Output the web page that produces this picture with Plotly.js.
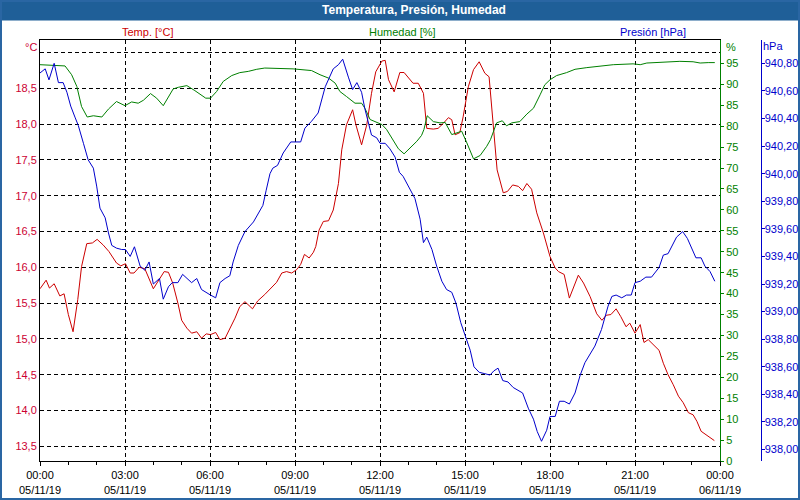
<!DOCTYPE html>
<html>
<head>
<meta charset="utf-8">
<script src="https://cdn.plot.ly/plotly-3.0.1.min.js"></script>
<style>
  html, body { margin: 0; padding: 0; background: #ffffff; }
  #chart { width: 800px; height: 500px; }
</style>
</head>
<body>
<div id="chart"></div>
<script>
// temperatura [°C]
var tempTimes = ['00:00','00:13','00:20','00:30','00:42','00:51','01:00','01:10','01:20','01:28','01:39','01:51',
  '02:01','02:14','02:26','02:42','02:51','03:01','03:11','03:19','03:30','03:42','04:00','04:12','04:23','04:32',
  '04:41','04:52','05:00','05:11','05:21','05:32','05:42','05:52','06:01','06:12','06:21','06:32','06:42','06:53',
  '07:03','07:14','07:30','07:41','07:56','08:07','08:21','08:32','08:42','08:53','09:04','09:12','09:20','09:30',
  '09:39','09:44','09:51','10:00','10:11','10:21','10:32','10:39','10:49','11:02','11:09','11:21','11:32','11:42',
  '11:51','12:04','12:11','12:18','12:30','12:42','12:51','13:10','13:21','13:32','13:39','13:53','14:03','14:14',
  '14:25','14:32','14:39','14:49','14:56','15:07','15:18','15:30','15:42','15:51','15:57','16:08','16:21','16:30',
  '16:41','16:53','17:02','17:11','17:21','17:32','17:46','18:00','18:11','18:18','18:30','18:41','19:00','19:11',
  '19:25','19:39','19:50','19:59','20:09','20:20','20:30','20:41','20:49','21:00','21:11','21:19','21:28','21:39',
  '21:51','22:00','22:10','22:21','22:32','22:42','22:53','23:03','23:11','23:20','23:30','23:39','23:48'];
var tempValues = [15.70,15.82,15.71,15.77,15.60,15.63,15.34,15.10,15.55,16.01,16.33,16.34,
  16.39,16.31,16.22,16.06,16.02,16.05,15.92,15.92,16.00,15.98,15.70,15.83,15.94,15.93,
  15.78,15.50,15.26,15.15,15.08,15.10,15.01,15.07,15.06,15.09,14.99,15.01,15.14,15.29,
  15.45,15.52,15.42,15.53,15.62,15.69,15.79,15.92,15.94,15.92,15.97,16.04,16.18,16.13,
  16.21,16.29,16.52,16.64,16.65,16.80,17.17,17.64,17.99,18.20,17.99,17.71,17.99,18.43,
  18.73,18.88,18.89,18.62,18.45,18.72,18.72,18.57,18.57,18.43,17.94,17.93,17.94,18.01,
  18.09,18.06,17.85,17.88,18.10,18.52,18.76,18.87,18.71,18.66,18.20,17.36,17.04,17.06,
  17.15,17.13,17.07,17.17,17.09,16.76,16.48,16.15,15.99,15.94,15.90,15.57,15.89,15.78,
  15.59,15.35,15.26,15.33,15.34,15.42,15.31,15.17,15.22,15.08,15.20,14.95,14.99,14.92,
  14.84,14.66,14.50,14.36,14.20,14.11,13.97,13.94,13.85,13.71,13.66,13.62,13.58];

// humedad [%]
var humTimes = ['00:00','00:53','01:07','01:18','01:28','01:40','01:53','02:11','02:25','02:42','03:00','03:14',
  '03:28','03:39','03:54','04:07','04:21','04:30','04:42','04:53','05:11','05:28','05:51','06:01','06:14','06:28',
  '06:46','07:03','07:21','07:39','07:56','08:56','09:35','09:53','10:11','10:25','10:35','10:49','11:07','11:21',
  '11:28','11:39','12:04','12:14','12:25','12:39','12:51','13:04','13:18','13:28','13:33','13:40','13:53','14:07',
  '14:18','14:32','14:46','14:53','15:04','15:18','15:32','15:46','15:54','16:07','16:19','16:28','16:39','16:56',
  '17:11','17:25','17:39','17:49','18:00','18:14','18:35','18:53','19:18','19:46','20:14','20:56','21:11','21:25',
  '21:53','22:35','23:03','23:18','23:35','23:49'];
var humValues = [94.7,94.4,92.3,89.5,84.7,82.2,82.5,82.2,84.1,85.9,84.9,85.8,
  85.5,86.2,87.8,86.7,84.9,86.5,88.9,89.3,89.7,88.5,86.7,86.7,88.3,90.7,
  92.1,92.8,93.1,93.6,93.9,93.7,93.3,92.3,91.5,90.3,88.3,87.1,85.5,85.5,
  84.3,81.6,80.4,79.2,77.2,74.6,73.4,74.8,76.4,77.8,79.2,82.5,81.1,80.8,
  80.9,78.0,78.5,78.8,76.0,72.2,73.0,75.2,76.8,80.8,81.3,80.1,80.8,81.1,
  82.9,84.3,87.5,89.9,91.1,92.1,92.8,93.6,94.0,94.4,94.7,94.9,94.7,95.1,
  95.2,95.5,95.4,95.1,95.2,95.2];

// presión [hPa]
var presTimes = ['00:00','00:11','00:19','00:30','00:39','00:49','00:57','01:05','01:14','01:21','01:32','01:42',
  '01:53','02:00','02:07','02:18','02:25','02:32','02:42','02:53','03:01','03:11','03:20','03:32','03:42','03:51',
  '04:00','04:13','04:21','04:32','04:40','04:52','05:02','05:21','05:32','05:42','06:01','06:12','06:21','06:32',
  '06:42','06:49','07:00','07:14','07:32','07:52','07:59','08:07','08:13','08:23','08:35','08:51','09:12','09:21',
  '09:35','09:49','10:04','10:21','10:32','10:41','10:53','11:02','11:11','11:21','11:28','11:42','11:53','12:00',
  '12:11','12:21','12:32','12:41','12:49','13:00','13:07','13:14','13:25','13:32','13:39','13:50','14:00','14:11',
  '14:21','14:32','14:41','14:51','15:00','15:11','15:19','15:30','15:42','15:53','16:01','16:10','16:20','16:31',
  '16:42','16:53','17:02','17:14','17:25','17:33','17:42','17:53','18:00','18:11','18:20','18:30','18:41','18:53',
  '19:04','19:14','19:23','19:35','19:49','19:56','20:03','20:11','20:20','20:32','20:42','20:52','21:00','21:11',
  '21:23','21:35','21:51','22:00','22:10','22:28','22:41','22:51','23:09','23:20','23:28','23:39','23:49'];
var presValues = [940.73,940.76,940.68,940.80,940.66,940.66,940.59,940.49,940.41,940.35,940.22,940.10,
  940.04,939.91,939.75,939.68,939.57,939.48,939.46,939.45,939.45,939.40,939.47,939.33,939.30,939.36,
  939.20,939.24,939.09,939.18,939.21,939.21,939.27,939.21,939.24,939.16,939.12,939.10,939.21,939.24,
  939.26,939.36,939.48,939.58,939.65,939.77,939.88,940.00,940.04,940.06,940.15,940.23,940.23,940.33,
  940.38,940.44,940.63,940.76,940.79,940.83,940.70,940.61,940.66,940.59,940.47,940.28,940.26,940.22,
  940.22,940.18,940.12,940.01,939.98,939.91,939.86,939.82,939.67,939.50,939.54,939.45,939.33,939.22,
  939.16,939.14,939.06,938.92,938.83,938.72,938.60,938.56,938.55,938.54,938.57,938.59,938.50,938.49,
  938.45,938.43,938.41,938.30,938.22,938.13,938.06,938.14,938.24,938.24,938.35,938.35,938.33,938.41,
  938.54,938.63,938.68,938.75,938.87,938.95,939.04,939.11,939.12,939.10,939.12,939.12,939.21,939.22,
  939.25,939.25,939.32,939.41,939.42,939.54,939.58,939.53,939.39,939.39,939.33,939.29,939.22];

// ejes
var tempTicks = [13.5,14.0,14.5,15.0,15.5,16.0,16.5,17.0,17.5,18.0,18.5,19.0];
var tempTickText = ['13,5','14,0','14,5','15,0','15,5','16,0','16,5','17,0','17,5','18,0','18,5',''];
var humTicks = [0,5,10,15,20,25,30,35,40,45,50,55,60,65,70,75,80,85,90,95];
var presTicks = [938.0,938.2,938.4,938.6,938.8,939.0,939.2,939.4,939.6,939.8,940.0,940.2,940.4,940.6,940.8];
var presTickText = ['938,00','938,20','938,40','938,60','938,80','939,00','939,20','939,40','939,60','939,80',
  '940,00','940,20','940,40','940,60','940,80'];
var timeTicks = ['2019-11-05 00:00','2019-11-05 03:00','2019-11-05 06:00','2019-11-05 09:00','2019-11-05 12:00',
  '2019-11-05 15:00','2019-11-05 18:00','2019-11-05 21:00','2019-11-06 00:00'];
var timeTickText = ['00:00<br>05/11/19','03:00<br>05/11/19','06:00<br>05/11/19','09:00<br>05/11/19',
  '12:00<br>05/11/19','15:00<br>05/11/19','18:00<br>05/11/19','21:00<br>05/11/19','00:00<br>06/11/19'];

function toDate(list) {
  return list.map(function (t) { return '2019-11-05 ' + t; });
}

var RED = '#cc0000', GREEN = '#008000', BLUE = '#0000cc';
var FONT = 'Liberation Sans, Arial, sans-serif';

var data = [
  {x: toDate(tempTimes), y: tempValues, type: 'scatter', mode: 'lines', name: 'Temp. [°C]',
   line: {color: RED, width: 1}, yaxis: 'y'},
  {x: toDate(humTimes), y: humValues, type: 'scatter', mode: 'lines', name: 'Humedad [%]',
   line: {color: GREEN, width: 1}, yaxis: 'y2'},
  {x: toDate(presTimes), y: presValues, type: 'scatter', mode: 'lines', name: 'Presión [hPa]',
   line: {color: BLUE, width: 1}, yaxis: 'y3'}
];

// plot area: x 40..720, y 40..461
var pw = 750, ph = 421;
function px(v) { return (v - 40) / pw; }
function py(v) { return (461 - v) / ph; }

var layout = {
  width: 800, height: 500,
  margin: {l: 40, r: 10, t: 40, b: 39},
  paper_bgcolor: '#ffffff', plot_bgcolor: '#ffffff',
  showlegend: false,
  font: {family: FONT, size: 11, color: '#000000'},
  title: {text: 'Temperatura, Presión, Humedad', xref: 'container', yref: 'container',
          x: 0.5175, y: 0.98, xanchor: 'center', yanchor: 'middle',
          font: {family: FONT, size: 12, color: '#ffffff', weight: 'bold'}},
  xaxis: {
    type: 'date', domain: [0, 680 / 750],
    range: ['2019-11-05 00:00', '2019-11-06 00:00'],
    tickvals: timeTicks, ticktext: timeTickText,
    showgrid: true, gridcolor: '#000000', gridwidth: 1, griddash: '4px,3px',
    showline: true, linecolor: '#000000', linewidth: 1, mirror: true,
    ticks: 'outside', ticklen: 4, tickcolor: '#000000',
    minor: {dtick: 3600000, ticks: 'outside', ticklen: 3, tickcolor: '#000000', showgrid: false},
    tickfont: {family: FONT, size: 11, color: '#000000'},
    zeroline: false
  },
  yaxis: {
    range: [13.295, 19.174],
    tickvals: tempTicks, ticktext: tempTickText,
    showgrid: true, gridcolor: '#000000', gridwidth: 1, griddash: '4px,3px',
    showline: true, linecolor: '#000000', linewidth: 1, mirror: true,
    ticks: '', tickfont: {family: FONT, size: 11, color: '#cc0033'},
    zeroline: false
  },
  yaxis2: {
    overlaying: 'y', side: 'right', anchor: 'x',
    range: [0, 100.6],
    tickvals: humTicks,
    showgrid: false, zeroline: false,
    showline: true, linecolor: GREEN, linewidth: 1,
    ticks: 'outside', ticklen: 3, tickcolor: GREEN,
    tickfont: {family: FONT, size: 11, color: GREEN}
  },
  yaxis3: {
    overlaying: 'y', side: 'right', anchor: 'free', position: px(760.5),
    range: [937.917, 940.969],
    tickvals: presTicks, ticktext: presTickText,
    showgrid: false, zeroline: false,
    showline: true, linecolor: BLUE, linewidth: 1,
    ticks: 'outside', ticklen: 3, tickcolor: BLUE, ticklabelstandoff: -2,
    tickfont: {family: FONT, size: 11, color: BLUE}
  },
  shapes: [
    // barra del título
    {type: 'rect', xref: 'paper', yref: 'paper', layer: 'below',
     x0: px(0), x1: px(800), y0: py(20.5), y1: py(0),
     fillcolor: '#1f5f98', line: {width: 0}},
    // marco
    {type: 'rect', xref: 'paper', yref: 'paper', layer: 'below',
     x0: px(1), x1: px(799), y0: py(499), y1: py(1),
     line: {color: '#2a66a3', width: 2}}
  ],
  annotations: [
    {text: 'Temp. [°C]', x: px(147), y: py(31.5), xref: 'paper', yref: 'paper', showarrow: false,
     xanchor: 'center', yanchor: 'middle', font: {family: FONT, size: 11, color: RED}},
    {text: 'Humedad [%]', x: px(402), y: py(31.5), xref: 'paper', yref: 'paper', showarrow: false,
     xanchor: 'center', yanchor: 'middle', font: {family: FONT, size: 11, color: GREEN}},
    {text: 'Presión [hPa]', x: px(653), y: py(31.5), xref: 'paper', yref: 'paper', showarrow: false,
     xanchor: 'center', yanchor: 'middle', font: {family: FONT, size: 11, color: BLUE}},
    {text: '°C', x: px(31), y: py(46.5), xref: 'paper', yref: 'paper', showarrow: false,
     xanchor: 'center', yanchor: 'middle', font: {family: FONT, size: 11, color: '#cc0033'}},
    {text: '%', x: px(731), y: py(46.5), xref: 'paper', yref: 'paper', showarrow: false,
     xanchor: 'center', yanchor: 'middle', font: {family: FONT, size: 11, color: GREEN}},
    {text: 'hPa', x: px(773), y: py(46), xref: 'paper', yref: 'paper', showarrow: false,
     xanchor: 'center', yanchor: 'middle', font: {family: FONT, size: 11, color: BLUE}}
  ]
};

Plotly.newPlot('chart', data, layout, {staticPlot: true, displayModeBar: false});
</script>
</body>
</html>
